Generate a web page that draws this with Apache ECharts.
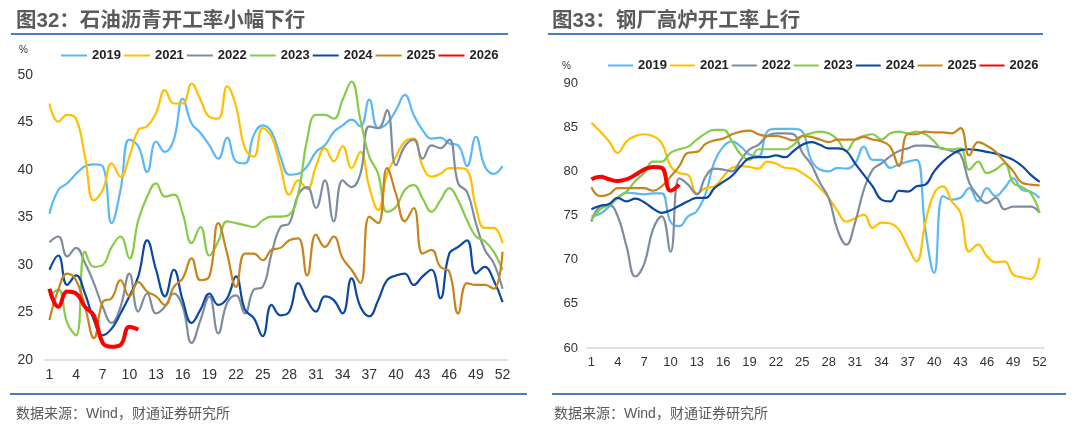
<!DOCTYPE html>
<html><head><meta charset="utf-8">
<script src="https://cdn.jsdelivr.net/npm/echarts/dist/echarts.min.js"></script>
<style>html,body{margin:0;padding:0;background:#fff}#c{width:1080px;height:425px}</style>
</head><body><div id="c"></div>
<script>
const weeks = Array.from({length:52},(_,i)=>String(i+1));
const years = ['2019','2021','2022','2023','2024','2025','2026'];
// 石油沥青开工率 (%)
const a2019 = [35.4,37.9,38.6,39.6,40.4,40.6,40.4,34.4,37.9,43.2,42.5,39.8,43,41.9,43.2,47.5,44.9,43.9,42.6,41.2,43.4,40.9,40.7,43.7,44.7,44,41.4,39.5,39.6,40.4,41.9,42.6,44,44.7,45.3,44.6,47.4,44.4,44.9,46.3,47.9,45.8,44.2,43.3,43.4,42.8,42.6,40.4,43.5,40.4,39.6,40.4];
const a2021 = [47,45.1,45.8,45.4,41.4,36.8,37.9,40.7,39.3,41.4,44.2,44.6,46,48.4,47,47,49.1,47.4,45.6,45.4,48.8,46.7,42.3,41.4,44.4,43.5,40.4,37.4,38.9,38,40.4,42.3,40.9,42.5,40.2,41.9,38.2,35.8,39.6,41.4,43,43.3,40.4,39.3,39.6,40.2,40.2,40,36.1,33.9,33.9,32.3];
const a2022 = [32.4,33,30.9,31.8,30.2,28.1,25.6,23.9,25.6,29.1,25.1,27,24.9,25.6,27,25.6,21.8,24.2,26.7,22.8,26,26.8,24.9,27.4,27.7,31.2,34,34.4,37.4,38.2,36,38.9,34.6,38.9,38.2,39.6,44.6,44.4,46.3,40.5,42.5,43.2,41.2,42.6,42.3,43.2,38.6,37.7,34.4,31.6,30.2,27.5];
const a2023 = [26.7,27.4,23.9,22.6,31.4,29.8,30,31.9,33,30.7,34.7,37.2,38.6,37.2,37.4,35.4,32.3,34,31,32.5,34.6,34.4,34.2,34,34.7,35.1,35.1,35.3,37.5,43.2,45.8,45.8,45.4,47.4,49.3,45.3,41.4,39.6,35.6,36.1,37.9,38.4,37,35.6,36.8,38.1,36.8,34.7,33,32.5,31.4,29.5];
const a2024 = [29.5,31,27.9,28.9,27,24.2,22.6,23.3,24.9,26.7,28.8,32.6,29.5,26.7,29.5,26.3,23.9,25.3,27,25.8,26.5,28.8,25.3,24.4,22.5,25.8,24.7,25.1,28.1,26.3,25.1,26.7,26.3,24.9,28.6,25.6,24.6,26.3,28.4,28.9,29.1,27.9,28.8,29.5,26.5,31.2,31.9,32.6,29.1,29.8,28.4,26.1];
const a2025 = [24.2,27.4,29.1,28.4,25.6,22.3,26.1,26.5,28.4,26.7,28.2,27.2,26.7,25.8,27.7,28.6,30.7,28.4,28.8,34.4,31.2,27.7,31.2,31.2,30.5,31.6,31.8,32.6,32.8,28.9,33.2,31.9,33,30.7,29.5,28.1,35.1,34.4,40.2,37.5,34.6,36,31.2,31.6,29.8,29.3,24.9,28.1,27.9,27.9,27.5,31.4];
const a2026 = [27.5,25.6,27.2,27,25.6,24.7,21.8,21.4,21.6,23.5,23.2];
// 钢厂高炉开工率 (%)
const b2019 = [74.9,75.2,76,77,77.6,77.5,77.4,77.5,77.5,74.3,73.8,74.9,75.5,77.5,81.1,82.8,83.4,82.8,81.9,81.7,84.5,84.8,84.8,84.8,84.5,81.3,80.2,80,80.4,80.3,80.9,82.8,81.3,81.3,80.4,80.8,81.1,81.3,73.4,68.5,77.2,76.8,77,78.1,76.6,78.1,77.2,78.1,79.2,77.9,77.7,77];
const b2021 = [85.5,84.5,83.4,82.1,83.4,84,84.2,84,83.2,80.6,79.8,79.6,77.5,78.1,78.3,79.4,80.4,80.6,80.5,80.3,81.1,80.9,80.4,80.3,79.8,79.1,78.1,77,75.5,74.3,74.7,75.1,73.6,74.2,74.1,73.4,71.5,69.8,74.2,77.5,78.3,76.6,75.3,70.9,71.7,70.4,69.7,69.8,68.3,68,67.8,70.2];
const b2022 = [74.3,76,76.2,74.9,71.5,68.1,69.5,73.4,74.9,70.9,79.2,78.5,77.4,79.4,80.3,80.2,80,81.3,82.5,83,84,84.3,84.3,84.2,82.1,80.8,78.7,77,73.4,71.7,74.2,77.9,80.2,80.9,81.7,82.3,82.6,82.9,82.9,82.8,82.6,82.3,81.9,78.7,77.2,76.4,77,75.7,76,76,76,75.3];
const b2023 = [74.5,75.7,76.2,77,77.7,78.9,79.8,81.1,81.1,82.1,82.5,82.8,83.6,84.3,84.7,84.7,83.4,81.9,81.3,82.5,82.5,82.5,82.5,83,84,84.3,84.5,84.3,83.6,82.3,83.6,84,84.2,83.6,84.3,84.5,84.3,84.5,84.2,83.4,82.5,82.5,82.6,80.2,81.1,79.8,80.2,80.9,78.7,78.2,77.5,75.3];
const b2024 = [75.7,76.1,76.3,77,76.6,76.9,76.5,75.8,75.3,75.6,76.1,76.6,77,77,78.1,78.8,79.5,80.6,81.5,81.6,81.6,81.8,81.6,82.3,83,83.3,83,82.6,82.6,82.3,80.9,79.6,78.3,76.8,76.6,77.8,77.7,78.3,78.5,80,81.1,81.9,82.4,82.5,82.4,82.2,82,81.7,81.3,80.6,79.6,78.8];
const b2025 = [78.2,77.2,77.4,78.1,78.1,78.1,78.1,77.8,78.3,79.4,80.6,82.1,82.2,83.1,83.5,83.7,84.2,84.5,84.6,84.2,84,84,83.8,83.5,84,83.9,83.6,83.3,83.6,83.6,83.6,83.9,83.6,83.4,82.8,80.6,84.2,84.2,84.5,84.4,84.4,84.3,84.9,81.8,83.3,82.9,82.2,81.1,80,78.7,78.5,78.4];
const b2026 = [79.1,79.4,79.1,78.9,79.1,79.6,80.2,80.5,80.4,77.8,78.5];

const colors = ['#5bb8f5','#ffc000','#7f8ca0','#86cb4a','#0b48a0','#c8841c','#ff0000'];
const leftData = [a2019,a2021,a2022,a2023,a2024,a2025,a2026];
const rightData = [b2019,b2021,b2022,b2023,b2024,b2025,b2026];
const FONT = '"Liberation Sans","Noto Sans CJK SC",sans-serif';

function mkSeries(data, idx){
  return data.map((d,i)=>({
    name: years[i], type:'line', xAxisIndex:idx, yAxisIndex:idx,
    data:d, smooth:0.45, symbol:'none', z: i===6?10:2+i,
    lineStyle:{color:colors[i], width: i===6?4:2.2},
    itemStyle:{color:colors[i]}
  }));
}
function xAx(idx, fs, margin){
  return {type:'category', gridIndex:idx, data:weeks, boundaryGap:true,
    axisLine:{lineStyle:{color:'#d6d6d6', width:1.5}},
    axisTick:{interval:2, length:5, lineStyle:{color:'#d6d6d6', width:1.5}},
    axisLabel:{interval:2, color:'#333', fontSize:fs, margin:margin, fontFamily:FONT}};
}
function yAx(idx, min, max, fs, margin){
  return {type:'value', gridIndex:idx, min:min, max:max, interval:5,
    splitLine:{show:false}, axisLine:{show:false}, axisTick:{show:false},
    axisLabel:{color:'#333', fontSize:fs, margin:margin, fontFamily:FONT}};
}
const legendBase = {padding:0, itemHeight:2, itemStyle:{opacity:0, borderWidth:0},
  textStyle:{fontSize:13, fontWeight:'bold', color:'#222', fontFamily:FONT}};
const chart = echarts.init(document.getElementById('c'));
chart.setOption({
  animation:false,
  backgroundColor:'#fff',
  title:[
    {text:'图32：石油沥青开工率小幅下行', left:11, top:6, textStyle:{fontSize:20.5, fontWeight:'bold', color:'#5a5a5a', fontFamily:FONT}},
    {text:'图33：钢厂高炉开工率上行', left:547, top:6, textStyle:{fontSize:20.5, fontWeight:'bold', color:'#5a5a5a', fontFamily:FONT}},
    {text:'数据来源：Wind，财通证券研究所', left:11, top:402, textStyle:{fontSize:14, fontWeight:'normal', color:'#595959', fontFamily:FONT}},
    {text:'数据来源：Wind，财通证券研究所', left:549, top:402, textStyle:{fontSize:14, fontWeight:'normal', color:'#595959', fontFamily:FONT}}
  ],
  legend:[
    Object.assign({}, legendBase, {data:years, left:60, top:49, itemWidth:26, itemGap:2}),
    Object.assign({}, legendBase, {data:years, left:607, top:59, itemWidth:25, itemGap:2})
  ],
  grid:[
    {left:45, right:573, top:75, bottom:65},
    {left:587, right:36, top:83, bottom:77}
  ],
  xAxis:[xAx(0,14,8), xAx(1,13,8)],
  yAxis:[yAx(0,20,50,14,12), yAx(1,60,90,13,9)],
  graphic:[
    {type:'line', shape:{x1:11,y1:34,x2:508,y2:34}, style:{stroke:'#4a7ebb', lineWidth:2}},
    {type:'line', shape:{x1:548,y1:34,x2:1043,y2:34}, style:{stroke:'#4a7ebb', lineWidth:2}},
    {type:'line', shape:{x1:10,y1:394,x2:527,y2:394}, style:{stroke:'#4a7ebb', lineWidth:2}},
    {type:'line', shape:{x1:552,y1:394,x2:1066,y2:394}, style:{stroke:'#4a7ebb', lineWidth:2}},
    {type:'text', left:19, top:45, style:{text:'%', fontSize:10, fill:'#333', fontFamily:FONT}},
    {type:'text', left:562, top:61, style:{text:'%', fontSize:10, fill:'#333', fontFamily:FONT}}
  ],
  series: mkSeries(leftData,0).concat(mkSeries(rightData,1))
});
</script></body></html>
